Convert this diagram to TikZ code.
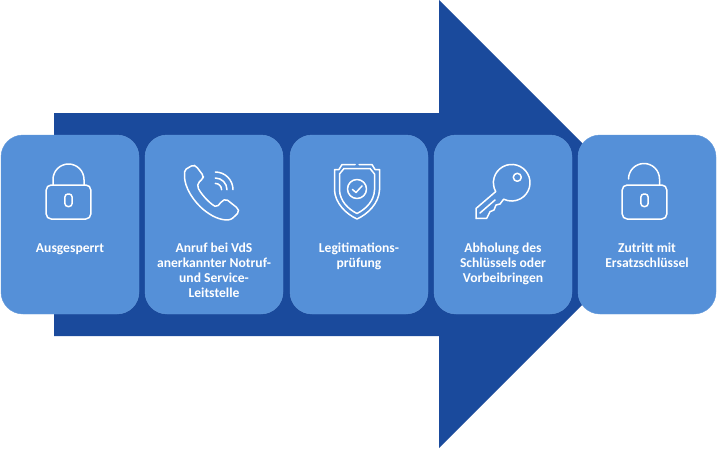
\documentclass[tikz,border=0pt]{standalone}
\usepackage{fontspec}
\setmainfont{Carlito}
\definecolor{arrowblue}{HTML}{1A4A9C}
\definecolor{boxblue}{HTML}{5590D8}
\tikzset{
  stepbox/.style={fill=boxblue, draw=boxblue!92!white, line width=0.4pt, rounded corners=22pt, minimum width=138pt, minimum height=179pt, inner sep=0pt, outer sep=0pt},
  steplabel/.style={anchor=north, align=center, text=white, inner sep=0pt, font=\bfseries\fontsize{13.6}{15}\selectfont},
  icon/.style={draw=white, line width=1.5pt, line join=round, line cap=round},
}
\newcommand{\lockbody}[1]{% x of the middle of the padlock
  \draw[icon, rounded corners=5pt] (#1-22.3,-185) rectangle (#1+22.3,-219);
  \draw[icon, rounded corners=3pt] (#1-3.6,-194) rectangle (#1+3.6,-206.5);
}
\begin{document}
\begin{tikzpicture}[x=1pt,y=1pt]
  \useasboundingbox (0,0) rectangle (720,-452);
  \fill[arrowblue] (54,-113) -- (439,-113) -- (439,0) -- (663,-224) -- (439,-448) -- (439,-336) -- (54,-336) -- cycle;
  \foreach \boxname/\x/\boxtext in {
      ausgesperrt/70/{Ausgesperrt},
      anruf/214/{Anruf bei VdS\\anerkannter Notruf-\\und Service-\\Leitstelle},
      legitimation/359/{Legitimations-\\prüfung},
      abholung/503/{Abholung des\\Schlüssels oder\\Vorbeibringen},
      zutritt/647/{Zutritt mit\\Ersatzschlüssel}} {
    \node[stepbox] (\boxname) at (\x,-224.5) {};
    \node[steplabel] (\boxname label) at (\x,-243) {\boxtext};
  }
  % padlocks
  \lockbody{68.5}
  \draw[icon] (53,-185) -- (53,-179.5) arc[radius=15.5,start angle=180,end angle=0] -- (84,-185);
  \lockbody{644.5}
  \draw[icon] (628.5,-179) arc[radius=15.5,start angle=180,end angle=0] -- (659.5,-185);
  % phone
  \draw[icon, rounded corners=2pt] (184.5,-170) -- (193,-165) -- (196,-166) -- (203.5,-176) -- (203,-178.5) -- (198,-183) -- (197.5,-187)
    .. controls (203,-197) and (212,-205) .. (217,-207) -- (222,-201) -- (226,-199) -- (238,-208.5) -- (239,-212) -- (234,-217)
    .. controls (228,-222) and (217,-219) .. (208,-213) .. controls (198,-206) and (187,-193) .. (184.5,-178) -- cycle;
  \foreach \r in {6.3,11.7,17.7} {
    \draw[icon] (215.3,-189.7+\r) arc[radius=\r,start angle=90,end angle=0];
  }
  % shield
  \draw[icon] (355,-164.5) -- (342,-164.5) -- (339,-169.5) -- (334.5,-169.5) -- (334.5,-190) .. controls (335,-203) and (346,-214) .. (357,-219)
    .. controls (368,-214) and (379,-203) .. (379.5,-190) -- (379.5,-169.5) -- (375,-169.5) -- (372,-164.5) -- (359,-164.5);
  \draw[icon] (344,-168.5) -- (370,-168.5) -- (374.5,-174) -- (374.5,-190) .. controls (374,-201) and (366,-209) .. (357,-213.5)
    .. controls (348,-209) and (340,-201) .. (339.5,-190) -- (339.5,-174) -- cycle;
  \draw[icon] (357,-189) circle[radius=9.5];
  \draw[icon] (352.5,-189.5) -- (356,-192.5) -- (362,-186);
  % key
  \draw[icon] (476,-218.5) -- (476,-208.5) -- (495.7,-191.6) arc[radius=18.3,start angle=209,end angle=-116]
    -- (500,-204) -- (496,-205) -- (494,-210) -- (490,-211.7) -- (486.7,-218.3) -- cycle;
  \draw[icon] (517.3,-177.3) circle[radius=4];
  \draw[icon] (480,-213) -- (495,-200);
\end{tikzpicture}
\end{document}
